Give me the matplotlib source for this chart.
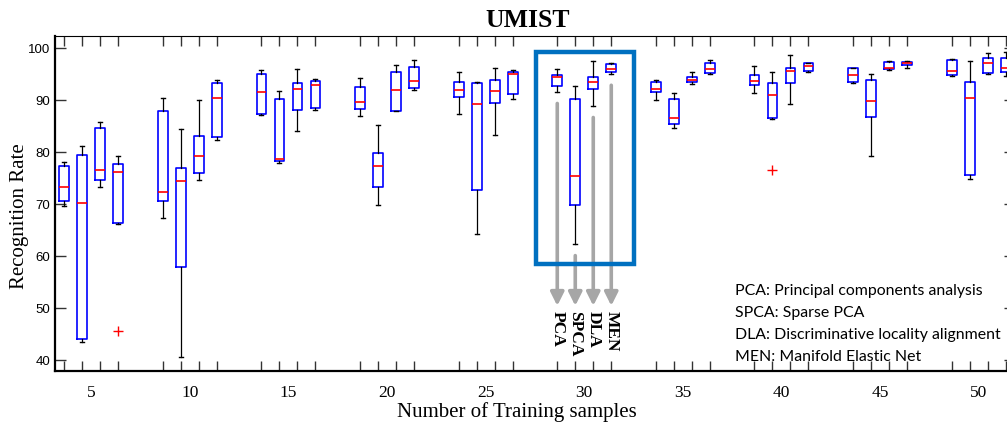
import matplotlib
matplotlib.use("Agg")
import matplotlib.pyplot as plt
from matplotlib.patches import Rectangle

# ---------------- data ----------------
train_sizes = [5, 10, 15, 20, 25, 30, 35, 40, 45, 50]
methods = ["PCA", "SPCA", "DLA", "MEN"]

# per group: lists of 4 (PCA, SPCA, DLA, MEN)
whislo = [
    [69.5, 43.35, 73.3, 66.2],
    [67.2, 40.65, 74.5, 82.3],
    [87.0, 77.8, 84.0, 88.1],
    [86.9, 69.8, 87.8, 91.9],
    [87.2, 64.2, 83.15, 90.1],
    [91.5, 62.25, 88.8, 95.0],
    [90.0, 84.5, 93.0, 94.9],
    [91.35, 86.4, 89.2, 95.4],
    [93.2, 79.2, 95.65, 96.2],
    [94.6, 74.75, 94.95, 94.5],
]
q1 = [
    [70.6, 44.0, 74.5, 66.4],
    [70.6, 57.8, 76.0, 82.8],
    [87.3, 78.15, 88.1, 88.4],
    [88.3, 73.2, 87.9, 92.2],
    [90.5, 72.6, 89.4, 91.1],
    [92.7, 69.8, 92.0, 95.4],
    [91.5, 85.3, 93.5, 95.2],
    [92.8, 86.5, 93.2, 95.5],
    [93.35, 86.7, 96.0, 96.6],
    [94.8, 75.6, 95.1, 95.4],
]
med = [
    [73.2, 70.2, 76.6, 76.2],
    [72.25, 74.4, 79.2, 90.4],
    [91.5, 78.65, 92.05, 92.8],
    [89.6, 77.2, 91.8, 93.7],
    [91.8, 89.2, 91.6, 95.0],
    [94.3, 75.3, 93.4, 95.9],
    [92.0, 86.6, 93.85, 96.0],
    [93.6, 91.0, 95.45, 96.5],
    [94.7, 89.8, 96.1, 97.0],
    [95.6, 90.4, 97.05, 96.15],
]
q3 = [
    [77.2, 79.4, 84.5, 77.7],
    [87.8, 76.8, 83.0, 93.2],
    [94.9, 90.1, 93.2, 93.7],
    [92.4, 79.8, 95.4, 96.35],
    [93.5, 93.15, 93.85, 95.4],
    [94.8, 90.1, 94.4, 96.8],
    [93.35, 90.1, 94.3, 97.1],
    [94.8, 93.2, 96.15, 97.0],
    [96.1, 93.85, 97.3, 97.3],
    [97.7, 93.35, 98.0, 98.0],
]
whishi = [
    [78.1, 81.1, 85.8, 79.2],
    [90.3, 84.4, 90.0, 93.9],
    [95.8, 91.7, 96.0, 94.0],
    [94.2, 85.2, 96.7, 97.7],
    [95.4, 93.35, 96.1, 95.8],
    [96.0, 92.6, 97.5, 97.1],
    [93.85, 91.3, 95.3, 97.6],
    [96.5, 95.3, 98.65, 97.1],
    [96.15, 94.9, 97.4, 97.4],
    [97.8, 97.5, 98.98, 99.2],
]
outliers = {(0, 3): [45.5], (7, 1): [76.55]}

legend_lines = [
    "PCA: Principal components analysis",
    "SPCA: Sparse PCA",
    "DLA: Discriminative locality alignment",
    "MEN: Manifold Elastic Net",
]
highlight_group = 5  # 30 training samples

# ---------------- layout ----------------
group_step = 5.478
positions, stats = [], []
for g in range(len(train_sizes)):
    for j in range(4):
        positions.append(g * group_step + j)
        stats.append(dict(whislo=whislo[g][j], q1=q1[g][j], med=med[g][j],
                          q3=q3[g][j], whishi=whishi[g][j],
                          fliers=outliers.get((g, j), [])))

fig = plt.figure(figsize=(10.07, 4.27), dpi=100)
ax = fig.add_axes([0.0549, 0.128, 0.9527, 0.7845])

ax.bxp(stats, positions=positions, widths=0.55, showfliers=True,
       boxprops=dict(color="#0000ff", linewidth=1.2),
       medianprops=dict(color="#ff0000", linewidth=1.2),
       whiskerprops=dict(color="black", linewidth=0.9),
       capprops=dict(color="black", linewidth=1.0),
       capwidths=0.22,
       flierprops=dict(marker="+", markeredgecolor="#ff0000", markersize=7,
                       markeredgewidth=1.0, linestyle="none"),
       manage_ticks=False)

ax.set_xlim(positions[0] - 0.5, positions[-1] + 0.5)
ax.set_ylim(37.8, 102.2)

# ticks
ax.set_xticks(positions)
ax.set_xticklabels([])
centers = [g * group_step + 1.5 for g in range(len(train_sizes))]
ax.set_xticks(centers, [str(s) for s in train_sizes], minor=True)
ax.tick_params(axis="x", which="major", direction="in", length=7, width=1,
               top=True, bottom=True, color="#333333")
ax.tick_params(axis="x", which="minor", length=0, pad=9)
for lab in ax.get_xticklabels(minor=True):
    lab.set_fontfamily("Liberation Serif")
    lab.set_fontsize(12.5)
ax.set_yticks(range(40, 101, 10))
ax.tick_params(axis="y", direction="in", length=8, width=1, left=True,
               right=True, labelsize=9.5, color="#333333")
for lab in ax.get_yticklabels():
    lab.set_fontfamily("Liberation Sans")

for side in ["left", "bottom"]:
    ax.spines[side].set_linewidth(1.6)
ax.spines["top"].set_linewidth(0.8)
ax.spines["right"].set_linewidth(0.8)

# highlight rectangle
g0 = highlight_group * group_step
ax.add_patch(Rectangle((g0 - 1.19, 58.35), 3 + 1.19 + 1.26, 99.1 - 58.35,
                       fill=False, edgecolor="#0070C0", linewidth=3.2,
                       zorder=5))

# arrows and method names
for j, m in enumerate(methods):
    x = g0 + j
    start = whislo[highlight_group][j] - 2.2
    ax.annotate("", xy=(x, 50.4), xytext=(x, start),
                arrowprops=dict(arrowstyle="-|>", color="#a6a6a6", lw=2.6,
                                mutation_scale=20, shrinkA=0, shrinkB=0),
                zorder=4)
    ax.text(x, 49.6, m, rotation=-90, ha="center", va="top",
            fontfamily="Liberation Serif", fontsize=12.5, fontweight="bold",
            color="black")

# legend text
for i, line in enumerate(legend_lines):
    fig.text(735 / 1007, 1 - (295 + 21.9 * i) / 427, line,
             fontfamily="Lato", fontsize=11.4, va="baseline", ha="left")

# labels and title
fig.text(527.5 / 1007, 1 - 27 / 427, "UMIST", fontfamily="Liberation Serif",
         fontsize=18.5, fontweight="bold", ha="center", va="baseline")
fig.text(517 / 1007, 1 - 412 / 427, "Number of Training samples",
         fontfamily="Liberation Serif", fontsize=15, ha="center",
         va="center")
fig.text(20 / 1007, 1 - 216 / 427, "Recognition Rate", rotation=90,
         fontfamily="Liberation Serif", fontsize=15, ha="center",
         va="center")

fig.savefig("out.png", dpi=100)
